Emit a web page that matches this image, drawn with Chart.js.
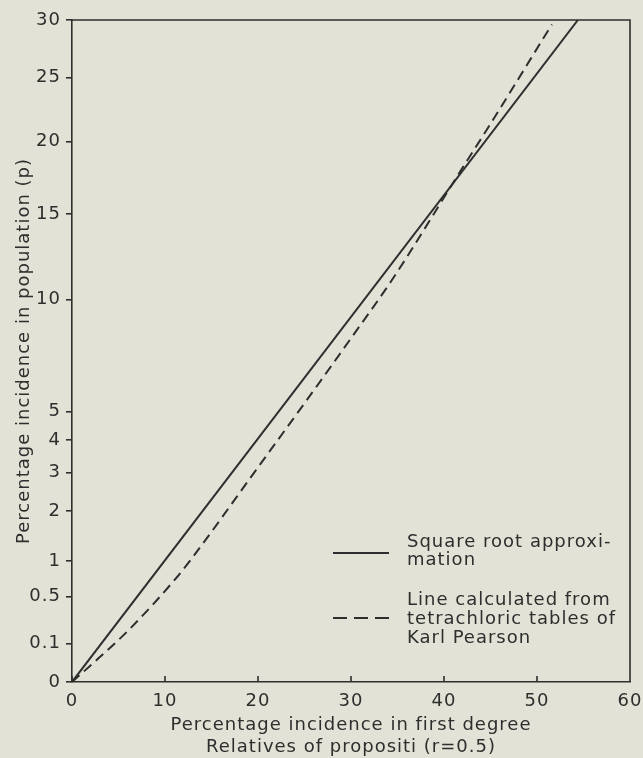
<!DOCTYPE html>
<html>
<head>
<meta charset="utf-8">
<script src="https://cdn.jsdelivr.net/npm/chart.js@4/dist/chart.umd.min.js"></script>
<style>
  html, body { margin: 0; padding: 0; background: #e3e2d6; }
  #wrap { width: 643px; height: 758px; position: relative; }
</style>
</head>
<body>
<div id="wrap"><canvas id="canvas"></canvas></div>
<script>
// values
const solidX = [0, 54.4];
const solidY = [0, 30];
const dashedX = [0, 2.9, 6.1, 11.3, 12.9, 19.8, 25.8, 30.1, 34.4, 41.8, 44.8, 51.6];
const dashedY = [0, 0.04, 0.185, 0.755, 1.05, 3.08, 5.72, 8.15, 11.06, 17.9, 21.1, 29.6];
const yTickValues = [0, 0.1, 0.5, 1, 2, 3, 4, 5, 10, 15, 20, 25, 30];
const yTickLabels = ['0', '0.1', '0.5', '1', '2', '3', '4', '5', '10', '15', '20', '25', '30'];
const legendSolid = ['Square root approxi-', 'mation'];
const legendDashed = ['Line calculated from', 'tetrachloric tables of', 'Karl Pearson'];

const ink = '#2e2e2e';
const fontFamily = '"DejaVu Sans", sans-serif';

// y axis of the figure is a square-root scale
class SqrtScale extends Chart.LinearScale {
  getPixelForValue(value) {
    const v = Math.max(value, 0);
    return this.getPixelForDecimal(Math.sqrt(v) / Math.sqrt(this.max));
  }
  getValueForPixel(pixel) {
    const d = this.getDecimalForPixel(pixel);
    return d * d * this.max;
  }
}
SqrtScale.id = 'sqrt';
SqrtScale.defaults = Chart.LinearScale.defaults;
Chart.register(SqrtScale);

const toPoints = (xs, ys) => xs.map((x, i) => ({ x: x, y: ys[i] }));

// the lettering of the original is wide, so space it a little
const spacingPlugin = {
  id: 'spacing',
  beforeUpdate(chart) { chart.ctx.letterSpacing = '1px'; },
  beforeDraw(chart) { chart.ctx.letterSpacing = '1px'; },
};

const framePlugin = {
  id: 'frame',
  afterDraw(chart) {
    const { ctx, chartArea: a, scales } = chart;
    ctx.save();
    ctx.strokeStyle = ink;
    ctx.lineWidth = 1.6;
    ctx.beginPath();
    ctx.moveTo(a.left, a.top);
    ctx.lineTo(a.right, a.top);
    ctx.lineTo(a.right, a.bottom);
    scales.x.ticks.forEach((t) => {
      const px = scales.x.getPixelForValue(t.value);
      ctx.moveTo(px, a.bottom);
      ctx.lineTo(px, a.bottom - 6);
    });
    ctx.stroke();

    // legend
    ctx.font = '18px ' + fontFamily;
    ctx.fillStyle = ink;
    ctx.textBaseline = 'middle';
    ctx.textAlign = 'left';
    ctx.lineWidth = 2;
    ctx.beginPath();
    ctx.moveTo(333, 553);
    ctx.lineTo(389, 553);
    ctx.stroke();
    ctx.setLineDash([14, 7]);
    ctx.beginPath();
    ctx.moveTo(333, 618);
    ctx.lineTo(389, 618);
    ctx.stroke();
    ctx.setLineDash([]);
    legendSolid.forEach((s, i) => ctx.fillText(s, 407, 542 + i * 18));
    legendDashed.forEach((s, i) => ctx.fillText(s, 407, 600 + i * 19));
    ctx.restore();
  }
};

new Chart(document.getElementById('canvas').getContext('2d'), {
  type: 'line',
  data: {
    datasets: [{
      label: 'Square root approximation',
      data: toPoints(solidX, solidY),
      borderColor: ink,
      borderWidth: 2,
      pointRadius: 0,
      fill: false,
    }, {
      label: 'Line calculated from tetrachloric tables of Karl Pearson',
      data: toPoints(dashedX, dashedY),
      borderColor: ink,
      borderWidth: 2,
      borderDash: [10, 6],
      pointRadius: 0,
      cubicInterpolationMode: 'monotone',
      fill: false,
    }],
  },
  options: {
    responsive: true,
    maintainAspectRatio: false,
    animation: false,
    layout: { padding: { top: 20, right: 13, left: 0, bottom: 0 } },
    plugins: { legend: { display: false }, tooltip: { enabled: false } },
    scales: {
      x: {
        type: 'linear',
        min: 0,
        max: 60,
        ticks: { stepSize: 10, color: ink, padding: 9, font: { family: fontFamily, size: 18 } },
        grid: { display: true, drawOnChartArea: false, drawTicks: false },
        border: { color: ink, width: 1.6 },
        title: {
          display: true,
          text: ['Percentage incidence in first degree', 'Relatives of propositi (r=0.5)'],
          color: ink,
          font: { family: fontFamily, size: 18, lineHeight: 1.22 },
          padding: { top: 0, bottom: 0 },
        },
        afterFit: (scale) => {
          scale.height = 76;
          scale.paddingLeft = 0;
          scale.paddingRight = 0;
        },
      },
      y: {
        type: 'sqrt',
        min: 0,
        max: 30,
        afterBuildTicks: (scale) => { scale.ticks = yTickValues.map((v) => ({ value: v })); },
        ticks: {
          color: ink,
          padding: 5,
          autoSkip: false,
          font: { family: fontFamily, size: 18 },
          callback: (value) => yTickLabels[yTickValues.indexOf(value)],
        },
        grid: { display: true, drawOnChartArea: false, drawTicks: true, tickLength: 6, color: ink, lineWidth: 1.6 },
        border: { color: ink, width: 1.6 },
        title: {
          display: true,
          text: 'Percentage incidence in population (p)',
          color: ink,
          font: { family: fontFamily, size: 18 },
          padding: { top: 14, bottom: 0 },
        },
        afterFit: (scale) => {
          scale.width = 72;
          scale.paddingTop = 0;
          scale.paddingBottom = 0;
        },
      },
    },
  },
  plugins: [spacingPlugin, framePlugin],
});
</script>
</body>
</html>
